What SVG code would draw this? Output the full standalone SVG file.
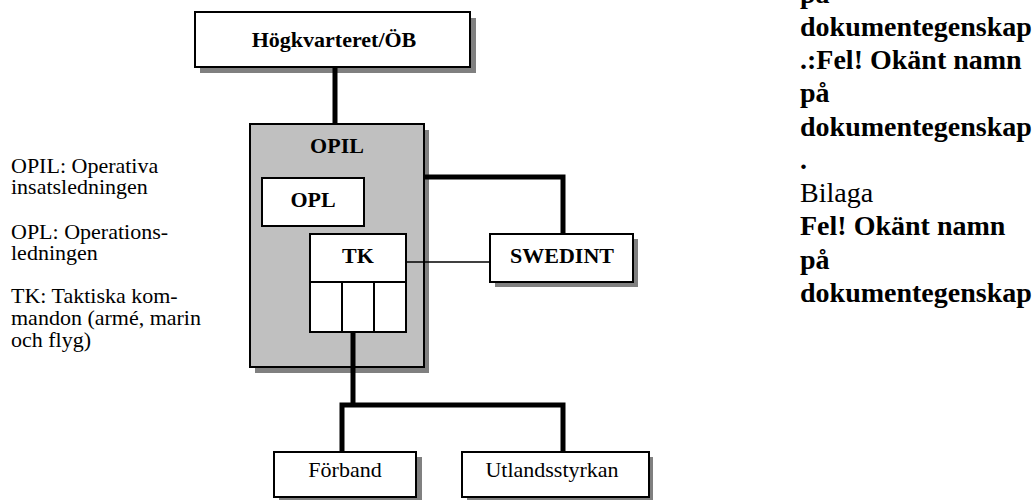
<svg xmlns="http://www.w3.org/2000/svg" width="1034" height="500" viewBox="0 0 1034 500">
<style>
.box{fill:#fff;stroke:#000;stroke-width:2}
.grey{fill:#c0c0c0;stroke:#000;stroke-width:2}
.sh{fill:#808080}
.thick{fill:none;stroke:#000;stroke-width:5}
.thin{fill:none;stroke:#000;stroke-width:1.5}
.b{font-family:"Liberation Serif","Times New Roman",serif;font-weight:bold;font-size:22px;text-anchor:middle}
.r{font-family:"Liberation Serif","Times New Roman",serif;font-size:22px;text-anchor:middle}
.note{font-family:"Liberation Serif","Times New Roman",serif;font-size:22px}
.side{font-family:"Liberation Serif","Times New Roman",serif;font-size:28px}
</style>
<rect width="1034" height="500" fill="#fff"/>
<g id="hq">
<rect class="sh" x="200" y="18" width="276" height="55"/>
<rect class="box" x="195" y="12" width="275" height="55"/>
<text class="b" x="334" y="47">Högkvarteret/ÖB</text>
</g>
<g id="opil">
<rect class="sh" x="255" y="130" width="174" height="243"/>
<rect class="grey" x="250" y="124" width="174" height="243"/>
<text class="b" x="337" y="153">OPIL</text>
</g>
<g id="connectors">
<polyline class="thick" points="335,67 335,124"/>
<polyline class="thick" points="424,177 563,177 563,234"/>
<polyline class="thin" points="406,262 490,262"/>
<polyline class="thick" points="353,332 353,405"/>
<polyline class="thick" points="342,452 342,405 563,405 563,452"/>
</g>
<g id="opl">
<rect class="box" x="262" y="178" width="102" height="48"/>
<text class="b" x="313" y="207">OPL</text>
</g>
<g id="tk">
<rect class="box" x="310" y="234" width="96" height="98"/>
<line class="box" x1="310" y1="282" x2="406" y2="282"/>
<line class="box" x1="342" y1="282" x2="342" y2="332"/>
<line class="box" x1="374" y1="282" x2="374" y2="332"/>
<text class="b" x="358" y="263">TK</text>
</g>
<g id="swedint">
<rect class="sh" x="495" y="239" width="143" height="48"/>
<rect class="box" x="490" y="234" width="143" height="48"/>
<text class="b" x="562" y="263">SWEDINT</text>
</g>
<g id="forband">
<rect class="sh" x="279" y="457" width="143" height="45"/>
<rect class="box" x="274" y="452" width="142" height="45"/>
<text class="r" x="345" y="477">Förband</text>
</g>
<g id="utland">
<rect class="sh" x="467" y="457" width="186" height="45"/>
<rect class="box" x="462" y="452" width="187" height="45"/>
<text class="r" x="552" y="477">Utlandsstyrkan</text>
</g>
<g id="legend">
<text class="note" x="11" y="173">OPIL: Operativa</text>
<text class="note" x="11" y="194">insatsledningen</text>
<text class="note" x="11" y="239">OPL: Operations-</text>
<text class="note" x="11" y="260">ledningen</text>
<text class="note" x="11" y="303">TK: Taktiska kom-</text>
<text class="note" x="11" y="325">mandon (armé, marin</text>
<text class="note" x="11" y="347">och flyg)</text>
</g>
<g id="side">
<text class="side" x="800" y="3" font-weight="bold">på</text>
<text class="side" x="800" y="36" font-weight="bold">dokumentegenskap</text>
<text class="side" x="800" y="69" font-weight="bold">.:Fel! Okänt namn</text>
<text class="side" x="800" y="102" font-weight="bold">på</text>
<text class="side" x="800" y="136" font-weight="bold">dokumentegenskap</text>
<text class="side" x="800" y="169" font-weight="bold">.</text>
<text class="side" x="800" y="202">Bilaga</text>
<text class="side" x="800" y="235" font-weight="bold">Fel! Okänt namn</text>
<text class="side" x="800" y="269" font-weight="bold">på</text>
<text class="side" x="800" y="302" font-weight="bold">dokumentegenskap</text>
</g>
</svg>
